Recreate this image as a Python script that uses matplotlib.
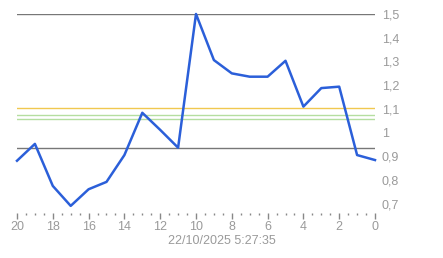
import matplotlib.pyplot as plt
import numpy as np

# valores (x = 20 ... 0)
x = [20, 19, 18, 17, 16, 15, 14, 13, 12, 11, 10, 9, 8, 7, 6, 5, 4, 3, 2, 1, 0]
y = [0.882, 0.953, 0.776, 0.692, 0.762, 0.793, 0.906, 1.084, 1.012, 0.937, 1.5,
     1.306, 1.25, 1.236, 1.236, 1.303, 1.11, 1.188, 1.194, 0.906, 0.885]
lineas_grises = [1.5, 0.936]
linea_naranja = 1.104
lineas_verdes = [1.075, 1.058]
yticks = [0.7, 0.8, 0.9, 1.0, 1.1, 1.2, 1.3, 1.4, 1.5]
ylabels = ['0,7', '0,8', '0,9', '1', '1,1', '1,2', '1,3', '1,4', '1,5']
xticks = [20, 18, 16, 14, 12, 10, 8, 6, 4, 2, 0]
titulo = '22/10/2025 5:27:35'

gris = '#9a9a9a'
plt.rcParams['font.family'] = ['Liberation Sans', 'DejaVu Sans']

fig = plt.figure(figsize=(4.43, 2.58), dpi=100)
ax = fig.add_axes([17/443, 1-213/258, (375-17)/443, (213-14)/258])

for v in lineas_grises:
    ax.axhline(v, color='#777777', lw=1)
ax.axhline(linea_naranja, color='#f0c850', lw=1)
for v in lineas_verdes:
    ax.axhline(v, color='#b5dea0', lw=1)

ax.plot(x, y, color='#2b5fd9', lw=1.8, clip_on=False, zorder=5)

ax.set_xlim(20, 0)
ax.set_ylim(0.662, 1.5)
for s in ax.spines.values():
    s.set_visible(False)

ax.yaxis.tick_right()
ax.set_yticks(yticks)
ax.set_yticklabels(ylabels)
ax.tick_params(axis='y', length=0, pad=5, labelsize=9, labelcolor=gris)

ax.set_xticks(xticks)
ax.set_xticks(np.arange(0, 20.5, 0.5), minor=True)
ax.tick_params(axis='x', which='major', length=4, width=1, color='#888888',
               labelsize=9, labelcolor=gris, pad=2)
ax.tick_params(axis='x', which='minor', length=1.5, width=1, color='#888888')

fig.text(0.5, 1-241/258, titulo, ha='center', va='center', fontsize=9, color=gris)

plt.savefig('out.png', dpi=100)
